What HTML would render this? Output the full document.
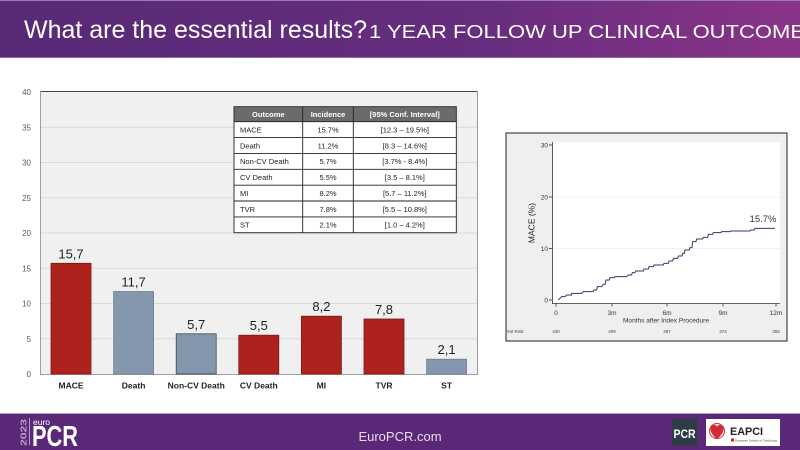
<!DOCTYPE html>
<html><head><meta charset="utf-8"><style>
html,body{margin:0;padding:0;background:#fff;width:800px;height:450px;overflow:hidden}
svg{display:block;font-family:"Liberation Sans",Arial,sans-serif}
</style></head><body>
<svg width="800" height="450" viewBox="0 0 800 450" xmlns="http://www.w3.org/2000/svg">
<defs>
<linearGradient id="hg" x1="0" y1="0" x2="1" y2="0">
<stop offset="0" stop-color="#572a76"/><stop offset="0.6" stop-color="#672d7e"/><stop offset="1" stop-color="#8a3488"/>
</linearGradient>
</defs>
<!-- header -->
<rect x="0" y="0" width="800" height="58" fill="url(#hg)"/>
<rect x="0" y="0" width="800" height="1" fill="#9a7bb0"/>
<rect x="0" y="57" width="800" height="1" fill="#8d6aa6"/>
<text x="24" y="38" font-size="25" fill="#fff" textLength="343" lengthAdjust="spacingAndGlyphs">What are the essential results?</text>
<text x="369" y="38" font-size="18" fill="#fff" textLength="436" lengthAdjust="spacingAndGlyphs">1 YEAR FOLLOW UP CLINICAL OUTCOME</text>

<!-- bar chart -->
<rect x="40" y="91" width="438" height="283" fill="#f0f0f0"/>
<g stroke="#d9d9d9" stroke-width="1">
<line x1="40" y1="338.75" x2="478" y2="338.75"/>
<line x1="40" y1="303.5" x2="478" y2="303.5"/>
<line x1="40" y1="268.25" x2="478" y2="268.25"/>
<line x1="40" y1="233" x2="478" y2="233"/>
<line x1="40" y1="197.75" x2="478" y2="197.75"/>
<line x1="40" y1="162.5" x2="478" y2="162.5"/>
<line x1="40" y1="127.25" x2="478" y2="127.25"/>
</g>
<line x1="40" y1="91.5" x2="478" y2="91.5" stroke="#444" stroke-width="1"/>
<line x1="477.5" y1="91" x2="477.5" y2="374" stroke="#9a9a9a" stroke-width="1"/>
<line x1="40.5" y1="91" x2="40.5" y2="374" stroke="#a0a0a0" stroke-width="1"/>
<line x1="40" y1="374.5" x2="478" y2="374.5" stroke="#a0a0a0" stroke-width="1"/>
<g font-size="8" fill="#5a5a5a" text-anchor="end">
<text x="31" y="377">0</text>
<text x="31" y="341.8">5</text>
<text x="31" y="306.5">10</text>
<text x="31" y="271.3">15</text>
<text x="31" y="236">20</text>
<text x="31" y="200.8">25</text>
<text x="31" y="165.5">30</text>
<text x="31" y="130.3">35</text>
<text x="31" y="95">40</text>
</g>
<!-- bars -->
<g stroke-width="0.8">
<rect x="51" y="263.3" width="40" height="110.7" fill="#ad221d" stroke="#7e1814"/>
<rect x="113.6" y="291.5" width="40" height="82.5" fill="#8597ad" stroke="#6f8096"/>
<rect x="176.2" y="333.8" width="40" height="40.2" fill="#8597ad" stroke="#3c4654"/>
<rect x="238.8" y="335.2" width="40" height="38.8" fill="#ad221d" stroke="#7e1814"/>
<rect x="301.4" y="316.2" width="40" height="57.8" fill="#ad221d" stroke="#7e1814"/>
<rect x="364" y="319" width="40" height="55" fill="#ad221d" stroke="#7e1814"/>
<rect x="426.6" y="359.2" width="40" height="14.8" fill="#8597ad" stroke="#6f8096"/>
</g>
<g font-size="13" fill="#222" text-anchor="middle">
<text x="71" y="258.5">15,7</text>
<text x="133.6" y="286.5">11,7</text>
<text x="196.2" y="328.8">5,7</text>
<text x="258.8" y="330.2">5,5</text>
<text x="321.4" y="311.2">8,2</text>
<text x="384" y="314">7,8</text>
<text x="446.6" y="354.2">2,1</text>
</g>
<g font-size="8.5" font-weight="bold" fill="#222" text-anchor="middle">
<text x="71" y="388.5">MACE</text>
<text x="133.6" y="388.5">Death</text>
<text x="196.2" y="388.5">Non-CV Death</text>
<text x="258.8" y="388.5">CV Death</text>
<text x="321.4" y="388.5">MI</text>
<text x="384" y="388.5">TVR</text>
<text x="446.6" y="388.5">ST</text>
</g>

<!-- table -->
<rect x="235.5" y="108.5" width="222" height="126" fill="#d8d8d8" opacity="0.6"/>
<rect x="234" y="106.7" width="222.3" height="126" fill="#fff"/>
<rect x="234" y="106.7" width="222.3" height="15" fill="#6b6b6b"/>
<g stroke="#222" stroke-width="0.9" fill="none">
<rect x="234" y="106.7" width="222.3" height="126"/>
<line x1="234" y1="121.7" x2="456.3" y2="121.7"/>
<line x1="234" y1="137.6" x2="456.3" y2="137.6"/>
<line x1="234" y1="153.4" x2="456.3" y2="153.4"/>
<line x1="234" y1="169.3" x2="456.3" y2="169.3"/>
<line x1="234" y1="185.2" x2="456.3" y2="185.2"/>
<line x1="234" y1="201" x2="456.3" y2="201"/>
<line x1="234" y1="216.9" x2="456.3" y2="216.9"/>
<line x1="302.7" y1="106.7" x2="302.7" y2="232.7"/>
<line x1="353.3" y1="106.7" x2="353.3" y2="232.7"/>
</g>
<g font-size="7.5" font-weight="bold" fill="#fff" text-anchor="middle">
<text x="268.3" y="117">Outcome</text>
<text x="328" y="117">Incidence</text>
<text x="404.8" y="117">[95% Conf. Interval]</text>
</g>
<g font-size="7.5" fill="#222">
<text x="240" y="132.5">MACE</text>
<text x="240" y="148.3">Death</text>
<text x="240" y="164.2">Non-CV Death</text>
<text x="240" y="180">CV Death</text>
<text x="240" y="195.9">MI</text>
<text x="240" y="211.8">TVR</text>
<text x="240" y="227.6">ST</text>
</g>
<g font-size="7.5" fill="#222" text-anchor="middle">
<text x="328" y="132.5">15.7%</text>
<text x="328" y="148.3">11.2%</text>
<text x="328" y="164.2">5.7%</text>
<text x="328" y="180">5.5%</text>
<text x="328" y="195.9">8.2%</text>
<text x="328" y="211.8">7.8%</text>
<text x="328" y="227.6">2.1%</text>
<text x="404.8" y="132.5">[12.3 – 19.5%]</text>
<text x="404.8" y="148.3">[8.3 – 14.6%]</text>
<text x="404.8" y="164.2">[3.7% - 8.4%]</text>
<text x="404.8" y="180">[3.5 – 8.1%]</text>
<text x="404.8" y="195.9">[5.7 – 11.2%]</text>
<text x="404.8" y="211.8">[5.5 – 10.8%]</text>
<text x="404.8" y="227.6">[1.0 – 4.2%]</text>
</g>

<!-- KM panel -->
<rect x="506" y="133" width="281" height="208" fill="#efefef" stroke="#222" stroke-width="1"/>
<rect x="552" y="142" width="228" height="161" fill="#fff"/>
<g stroke="#eeeeee" stroke-width="0.8">
<line x1="552" y1="197" x2="780" y2="197"/>
<line x1="552" y1="248.5" x2="780" y2="248.5"/>
</g>
<g stroke="#333" stroke-width="0.8">
<line x1="552.5" y1="142" x2="552.5" y2="303.5"/>
<line x1="552" y1="303.5" x2="780" y2="303.5"/>
<line x1="549" y1="145" x2="552" y2="145"/>
<line x1="549" y1="197" x2="552" y2="197"/>
<line x1="549" y1="248.5" x2="552" y2="248.5"/>
<line x1="549" y1="300" x2="552" y2="300"/>
<line x1="556" y1="303.5" x2="556" y2="306.5"/>
<line x1="612" y1="303.5" x2="612" y2="306.5"/>
<line x1="667" y1="303.5" x2="667" y2="306.5"/>
<line x1="723" y1="303.5" x2="723" y2="306.5"/>
<line x1="776" y1="303.5" x2="776" y2="306.5"/>
</g>
<g font-size="6.5" fill="#333" text-anchor="end">
<text x="548" y="147.5">30</text>
<text x="548" y="199.5">20</text>
<text x="548" y="251">10</text>
<text x="548" y="302.5">0</text>
</g>
<g font-size="6.5" fill="#333" text-anchor="middle">
<text x="556" y="315">0</text>
<text x="612" y="315">3m</text>
<text x="667" y="315">6m</text>
<text x="723" y="315">9m</text>
<text x="776" y="315">12m</text>
<text x="666" y="322.5" textLength="86" lengthAdjust="spacingAndGlyphs">Months after Index Procedure</text>
</g>
<text transform="translate(534.5,223) rotate(-90)" font-size="8.5" fill="#222" text-anchor="middle">MACE (%)</text>
<g font-size="4.5" fill="#444">
<text x="507" y="333">#at Risk:</text>
</g>
<g font-size="4.5" fill="#444" text-anchor="middle">
<text x="556" y="333">430</text>
<text x="612" y="333">409</text>
<text x="667" y="333">397</text>
<text x="723" y="333">374</text>
<text x="776" y="333">355</text>
</g>
<text x="763" y="222" font-size="9.5" fill="#333" text-anchor="middle">15.7%</text>
<g transform="translate(500,125) scale(0.3333)">
<path fill="none" stroke="#2d3f60" stroke-width="3" d="M175 525 L180 520 L185 515 L195 515 L200 510 L215 510 L215 505 L245 505 L250 500 L280 500 L282 495 L290 495 L292 485 L305 485 L310 478 L315 478 L318 465 L328 465 L330 458 L343 458 L345 455 L380 455 L385 450 L395 450 L397 443 L405 443 L407 438 L430 438 L432 432 L445 432 L447 425 L460 425 L462 420 L490 420 L492 415 L505 415 L507 408 L518 408 L520 400 L533 400 L535 393 L546 393 L548 385 L553 385 L555 375 L568 375 L570 368 L576 368 L578 350 L588 350 L590 342 L608 342 L610 337 L623 337 L625 328 L638 328 L640 323 L663 323 L665 320 L690 320 L692 318 L750 318 L752 315 L763 315 L765 310 L825 310"/>
</g>

<!-- footer -->
<rect x="0" y="413" width="800" height="37" fill="#5b2877"/>
<rect x="0" y="413" width="800" height="1" fill="#b59bc8"/>
<text transform="translate(26.5,446) rotate(-90)" font-size="8.5" font-weight="bold" fill="#b8a3c8" textLength="27" lengthAdjust="spacingAndGlyphs">2023</text>
<rect x="29" y="418" width="0.8" height="27" fill="#cbbbd8"/>
<text x="33" y="425" font-size="8.5" fill="#fff">euro</text>
<text x="32" y="446" font-size="29" font-weight="bold" fill="#fff" textLength="46" lengthAdjust="spacingAndGlyphs">PCR</text>
<text x="400" y="441" font-size="13" fill="#e6dcee" text-anchor="middle">EuroPCR.com</text>
<rect x="672" y="419" width="25" height="27" fill="#2f3b47"/>
<text x="684.5" y="438" font-size="12" font-weight="bold" fill="#fff" text-anchor="middle" textLength="22" lengthAdjust="spacingAndGlyphs">PCR</text>
<rect x="706" y="419" width="74" height="27" fill="#fff"/>
<path d="M717 439 C709 433 709 426 713.5 425 C715.5 424.5 717 426 717 427 C717 426 718.5 424.5 720.5 425 C725 426 725 433 717 439 Z" fill="#d42a3a"/>
<circle cx="717" cy="431" r="7.5" fill="none" stroke="#d42a3a" stroke-width="1"/>
<text x="730" y="435" font-size="11" font-weight="bold" fill="#222" textLength="33" lengthAdjust="spacingAndGlyphs">EAPCI</text>
<rect x="731" y="438.5" width="3" height="3" fill="#c22"/>
<text x="735" y="441.5" font-size="3" fill="#444">European Society of Cardiology</text>
</svg>
</body></html>
